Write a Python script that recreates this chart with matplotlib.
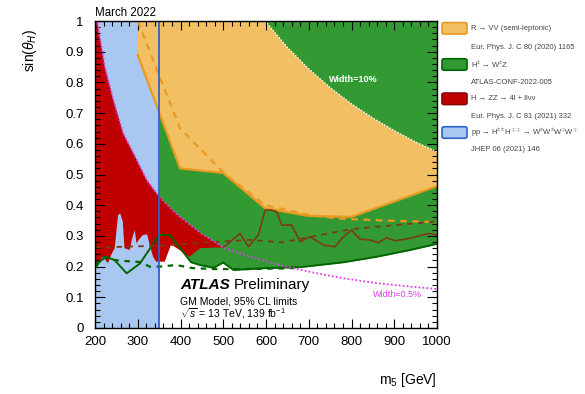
import matplotlib
matplotlib.use("Agg")
import matplotlib.pyplot as plt
from matplotlib.patches import FancyBboxPatch
from matplotlib.ticker import MultipleLocator
import numpy as np

plt.rcParams['font.family'] = ['Liberation Sans', 'DejaVu Sans']
plt.rcParams['mathtext.fontset'] = 'custom'
plt.rcParams['mathtext.rm'] = 'Liberation Sans'
plt.rcParams['mathtext.it'] = 'Liberation Sans:italic'
plt.rcParams['mathtext.bf'] = 'Liberation Sans:bold'

# ---------------- data ----------------
# pp -> H++H-- -> WWWW : excluded below this mass (full sin range)
wwww_m = [200, 350]

# H+- -> W+-Z observed (also lower edge of green excluded region for m>=350)
wz_obs_m = [200, 211, 226, 246, 274, 305, 350, 375, 425, 446, 477, 500, 524, 600, 680, 781, 859, 937, 1000]
wz_obs_s = [0.194, 0.216, 0.232, 0.221, 0.178, 0.210, 0.303, 0.303, 0.214, 0.205, 0.196, 0.213, 0.189, 0.195, 0.198, 0.214, 0.232, 0.254, 0.274]
# H+- -> W+-Z expected
wz_exp_m = [200, 219, 242, 273, 305, 328, 351, 390, 429, 480, 550, 640, 680]
wz_exp_s = [0.205, 0.232, 0.222, 0.218, 0.215, 0.200, 0.200, 0.205, 0.195, 0.192, 0.192, 0.194, 0.196]

# R -> VV (semi-leptonic) observed / expected
vv_obs_m = [300, 399, 500, 598, 700, 800, 1000]
vv_obs_s = [0.889, 0.520, 0.505, 0.390, 0.365, 0.362, 0.462]
vv_exp_m = [300, 399, 505, 598, 703, 765, 874, 1000]
vv_exp_s = [1.000, 0.650, 0.500, 0.400, 0.368, 0.357, 0.350, 0.345]

# H -> ZZ observed / expected
zz_obs_m = [200, 203, 219, 230, 238, 246, 254, 259, 265, 269, 281, 287, 293, 297, 305, 312, 322, 328, 336, 343,
            350, 363, 378, 398, 421, 446, 480, 500, 539, 559, 582, 598, 613, 625, 637, 660, 680, 703, 734, 761,
            781, 800, 820, 843, 863, 882, 902, 937, 980, 1000]
zz_obs_s = [0.205, 0.205, 0.232, 0.211, 0.238, 0.260, 0.368, 0.373, 0.346, 0.260, 0.254, 0.292, 0.319, 0.276, 0.292, 0.303, 0.305, 0.270, 0.232, 0.216,
            0.216, 0.216, 0.272, 0.254, 0.232, 0.260, 0.262, 0.262, 0.308, 0.265, 0.303, 0.384, 0.384, 0.379, 0.335, 0.335, 0.281, 0.297, 0.270, 0.265,
            0.297, 0.319, 0.289, 0.287, 0.278, 0.294, 0.284, 0.292, 0.308, 0.303]
zz_exp_m = [200, 350, 450, 563, 640, 719, 800, 900, 1000]
zz_exp_s = [0.262, 0.268, 0.278, 0.287, 0.279, 0.301, 0.322, 0.335, 0.347]

# Width / mass contours
w05_m = [200, 205, 223, 243, 266, 298, 321, 350, 390, 446, 500, 563, 640, 719, 781, 859, 937, 1000]
w05_s = [1.000, 1.000, 0.851, 0.743, 0.634, 0.547, 0.482, 0.428, 0.372, 0.310, 0.262, 0.232, 0.202, 0.178, 0.162, 0.146, 0.135, 0.127]
w10_m = [598, 650, 700, 750, 800, 850, 900, 950, 1000]
w10_s = [1.000, 0.914, 0.844, 0.783, 0.730, 0.684, 0.643, 0.606, 0.574]

legend_labels = ["R → VV (semi-leptonic)",
                 r"H$^{\pm}$ → W$^{\pm}$Z",
                 "H → ZZ → 4l + llνν",
                 r"pp → H$^{\pm\pm}$H$^{\mp\mp}$ → W$^{\pm}$W$^{\pm}$W$^{\mp}$W$^{\mp}$"]
legend_refs = ["Eur. Phys. J. C 80 (2020) 1165",
               "ATLAS-CONF-2022-005",
               "Eur. Phys. J. C 81 (2021) 332",
               "JHEP 06 (2021) 146"]

# ---------------- colours ----------------
c_orange, c_orange_l = '#f3bf63', '#e89a22'
c_green, c_green_l = '#339933', '#006400'
c_red, c_red_l = '#c00000', '#8b0000'
c_blue, c_blue_l = '#a9c8f1', '#2f62c8'
c_brown = '#7a3b17'
c_mag = '#e040f0'

fig = plt.figure(figsize=(5.85, 3.94), dpi=100)
ax = fig.add_axes([95/585, 1-328/394, (437-95)/585, (328-21)/394])

# blue region
ax.fill_between(wwww_m, 0, 1, color=c_blue, lw=0, zorder=1.0)
# green region
wz_m = np.array(wz_obs_m); wz_s = np.array(wz_obs_s)
sel = wz_m >= wwww_m[1]
ax.fill_between(wz_m[sel], wz_s[sel], 1, color=c_green, lw=0, zorder=1.1)
# orange region (bounded above by width=10% contour)
ox = list(vv_obs_m) + w10_m[::-1] + [vv_obs_m[0]]
oy = list(vv_obs_s) + w10_s[::-1] + [1.0]
ax.fill(ox, oy, color=c_orange, lw=0, zorder=1.2)
# red region: between ZZ observed and width=0.5% contour
w05m = np.array(w05_m); w05s = np.array(w05_s)
zm = np.array(zz_obs_m); zs = np.array(zz_obs_s)
rx = list(w05m[w05m <= 500]) + list(zm[zm <= 500][::-1])
ry = list(w05s[w05m <= 500]) + list(zs[zm <= 500][::-1])
ax.fill(rx, ry, color=c_red, lw=0, zorder=1.3)

# lines
ax.plot(vv_obs_m, vv_obs_s, color=c_orange_l, lw=1.6, zorder=2)
ax.plot(vv_exp_m, vv_exp_s, color=c_orange_l, lw=1.6, ls=(0, (3, 2.5)), zorder=2)
ax.plot(wz_obs_m, wz_obs_s, color=c_green_l, lw=1.4, zorder=2.1)
ax.plot(wz_exp_m, wz_exp_s, color=c_green_l, lw=1.6, ls=(0, (2.5, 2.5)), zorder=2.1)
ax.plot(zm[zm >= 500], zs[zm >= 500], color=c_brown, lw=1.2, zorder=2.2)
ax.plot(zz_exp_m, zz_exp_s, color=c_brown, lw=1.3, ls=(0, (3, 3)), zorder=2.2)
ax.plot(w05_m, w05_s, color=c_mag, lw=1.3, ls=(0, (1, 1.2)), zorder=2.3)
ax.plot(w10_m, w10_s, color='white', lw=1.0, ls=(0, (1, 1.2)), zorder=2.3)
ax.axvline(wwww_m[1], color=c_blue_l, lw=1.3, zorder=2.4)

ax.text(804, 0.81, "Width=10%", color='white', fontsize=6.5, fontweight='bold', ha='center', va='center', zorder=3)
ax.text(907, 0.11, "Width=0.5%", color=c_mag, fontsize=6.5, ha='center', va='center', zorder=3)

ax.set_xlim(200, 1000)
ax.set_ylim(0, 1)
ax.xaxis.set_major_locator(MultipleLocator(100))
ax.xaxis.set_minor_locator(MultipleLocator(20))
ax.yaxis.set_major_locator(MultipleLocator(0.1))
ax.yaxis.set_minor_locator(MultipleLocator(0.02))
ax.tick_params(which='both', direction='in', top=True, right=True, colors='black', labelsize=9.5)
ax.tick_params(axis='x', which='major', length=6.5, width=0.8, pad=6)
ax.tick_params(axis='x', which='minor', length=3.3, width=0.8)
ax.tick_params(axis='y', which='major', length=7.2, width=0.8, pad=8)
ax.tick_params(axis='y', which='minor', length=3.6, width=0.8)
ax.yaxis.set_major_formatter(matplotlib.ticker.FuncFormatter(lambda v, p: ('%g' % round(v, 2))))
for s in ax.spines.values():
    s.set_linewidth(1.0)

ax.set_xlabel(r"m$_{5}$ [GeV]", fontsize=10, ha='right', x=1.0)
ax.xaxis.set_label_coords(1.0, -0.14)
ax.xaxis.label.set_va('top')
ax.set_ylabel(r"sin($\theta_{H}$)", fontsize=10, ha='right', y=0.974)
ax.yaxis.set_label_coords(-0.165, 0.974)

fig.text(95/585, 1-16/394, "March 2022", fontsize=8.3, ha='left', va='baseline')

t_atlas = ax.text(0.2485, 0.127, "ATLAS", transform=ax.transAxes, fontsize=11,
                  fontweight='bold', style='italic', va='baseline')
ax.annotate("Preliminary", xy=(1, 0), xycoords=t_atlas, xytext=(3, 0),
            textcoords='offset points', fontsize=11, va='bottom', ha='left')
ax.text(0.2485, 0.078, "GM Model, 95% CL limits", transform=ax.transAxes, fontsize=7.5, va='baseline')
ax.text(0.2485, 0.033, r"$\sqrt{s}$ = 13 TeV, 139 fb$^{-1}$", transform=ax.transAxes, fontsize=7.5, va='baseline')

# legend (manual)
fills = [(c_orange, c_orange_l), (c_green, c_green_l), (c_red, c_red_l), (c_blue, c_blue_l)]
box_cy = [28.3, 64.5, 98.8, 132.5]
ref_cy = [47.3, 82.3, 116.7, 150.0]
for (fc, ec), cy, lab, ref, rcy in zip(fills, box_cy, legend_labels, legend_refs, ref_cy):
    bw, bh = 25, 11.5
    p = FancyBboxPatch((442/585, 1-(cy+bh/2)/394), bw/585, bh/394,
                       boxstyle="round,pad=0,rounding_size=0.004", transform=fig.transFigure,
                       fc=fc, ec=ec, lw=1.2)
    fig.add_artist(p)
    fig.text(471/585, 1-cy/394, lab, fontsize=5.5, color='#444444', va='center', ha='left')
    fig.text(471/585, 1-rcy/394, ref, fontsize=5.5, color='#444444', va='center', ha='left')

fig.savefig("out.png", dpi=100)
